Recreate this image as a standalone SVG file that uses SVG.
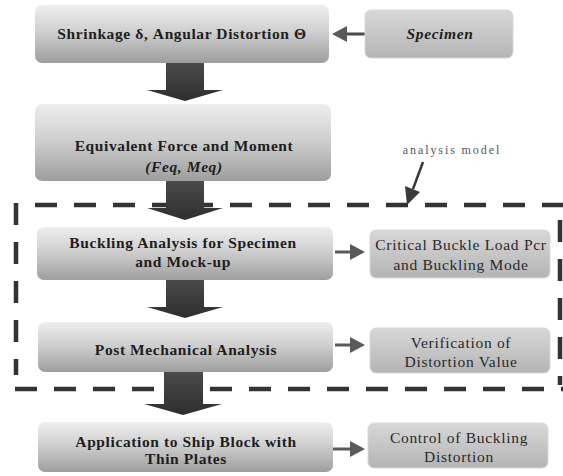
<svg xmlns="http://www.w3.org/2000/svg" width="563" height="476" viewBox="0 0 563 476">
<style>
.main{font-family:"Liberation Serif","Times New Roman",serif;font-weight:bold;font-size:15.5px;letter-spacing:0.6px;fill:#1e1e1e;text-anchor:middle}
.side{font-family:"Liberation Serif","Times New Roman",serif;font-size:15.5px;letter-spacing:0.7px;fill:#2a2a2a;text-anchor:middle}
.note{font-family:"Liberation Serif","Times New Roman",serif;font-size:12px;fill:#555;letter-spacing:1.9px;text-anchor:middle}
.mbox{fill:url(#gMain)}
.sbox{fill:url(#gSide);stroke:#d8d8d8;stroke-width:1}
.big{fill:url(#gArrow)}
.small{fill:#5a5a5a}
.dash{fill:none;stroke:#333;stroke-width:4.5;stroke-dasharray:22 17}
</style>
<defs>
<linearGradient id="gMain" x1="0" y1="0" x2="0" y2="1">
<stop offset="0" stop-color="#eeeeee"/>
<stop offset="0.45" stop-color="#d0d0d0"/>
<stop offset="1" stop-color="#9e9e9e"/>
</linearGradient>
<linearGradient id="gSide" x1="0" y1="0" x2="0" y2="1">
<stop offset="0" stop-color="#d8d8d8"/>
<stop offset="1" stop-color="#b4b4b4"/>
</linearGradient>
<linearGradient id="gArrow" x1="0" y1="0" x2="0" y2="1">
<stop offset="0" stop-color="#4a4a4a"/>
<stop offset="1" stop-color="#2e2e2e"/>
</linearGradient>
</defs>

<g id="analysis-model-frame">
<path class="dash" d="M35 205 H563"/>
<path class="dash" d="M15 389 H563"/>
<path class="dash" d="M16 203 V375"/>
<path class="dash" d="M560 220 V385"/>
</g>

<g id="connectors">
<polygon class="big" points="166,63 204,63 204,90 223,90 185,101 147,90 166,90"/>
<polygon class="big" points="166,181 204,181 204,208 223,208 185,220 147,208 166,208"/>
<polygon class="big" points="166,280 204,280 204,307 223,307 185,318 147,307 166,307"/>
<polygon class="big" points="164,372 203,372 203,404 222,404 183,415 144,404 164,404"/>
<line x1="365" y1="34" x2="344" y2="34" stroke="#4a4a4a" stroke-width="3"/>
<polygon class="small" points="332,34 347,26 347,42"/>
<line x1="335" y1="252" x2="352" y2="252" stroke="#5a5a5a" stroke-width="3"/>
<polygon class="small" points="365,252 350,244 350,260"/>
<line x1="335" y1="345" x2="352" y2="345" stroke="#5a5a5a" stroke-width="3"/>
<polygon class="small" points="365,345 350,337 350,353"/>
<line x1="333" y1="449" x2="350" y2="449" stroke="#5a5a5a" stroke-width="3"/>
<polygon class="small" points="365,449 350,441 350,457"/>
<line x1="423" y1="162" x2="413" y2="189" stroke="#3a3a3a" stroke-width="2.5"/>
<polygon fill="#3a3a3a" points="407,205 405,186 420,192"/>
</g>

<g id="n-shrinkage">
<rect class="mbox" x="35" y="5" width="294" height="58" rx="7"/>
<text class="main" x="182" y="39">Shrinkage δ, Angular Distortion Θ</text>
</g>

<g id="n-specimen">
<rect class="sbox" x="365" y="10" width="148" height="48" rx="6"/>
<text class="main" x="440" y="39" style="font-style:italic">Specimen</text>
</g>

<g id="n-equivalent">
<rect class="mbox" x="35" y="104" width="296" height="77" rx="7"/>
<text class="main" x="184" y="151">Equivalent Force and Moment</text>
<text class="main" x="184" y="172" style="font-style:italic">(Feq, Meq)</text>
</g>

<g id="n-analysis-label">
<text class="note" x="452" y="154">analysis model</text>
</g>

<g id="n-buckling">
<rect class="mbox" x="37" y="227" width="296" height="53" rx="7"/>
<text class="main" x="183" y="248">Buckling Analysis for Specimen</text>
<text class="main" x="183" y="267">and Mock-up</text>
</g>

<g id="n-critical">
<rect class="sbox" x="370" y="230" width="180" height="48" rx="6"/>
<text class="side" x="461" y="250">Critical Buckle Load Pcr</text>
<text class="side" x="461" y="270">and Buckling Mode</text>
</g>

<g id="n-post">
<rect class="mbox" x="38" y="322" width="295" height="50" rx="7"/>
<text class="main" x="186" y="355">Post Mechanical Analysis</text>
</g>

<g id="n-verification">
<rect class="sbox" x="370" y="328" width="180" height="45" rx="6"/>
<text class="side" x="461" y="348">Verification of</text>
<text class="side" x="461" y="367">Distortion Value</text>
</g>

<g id="n-application">
<rect class="mbox" x="38" y="422" width="295" height="50" rx="7"/>
<text class="main" x="186" y="447">Application to Ship Block with</text>
<text class="main" x="186" y="464">Thin Plates</text>
</g>

<g id="n-control">
<rect class="sbox" x="368" y="423" width="180" height="45" rx="6"/>
<text class="side" x="459" y="443">Control of Buckling</text>
<text class="side" x="459" y="462">Distortion</text>
</g>
</svg>
